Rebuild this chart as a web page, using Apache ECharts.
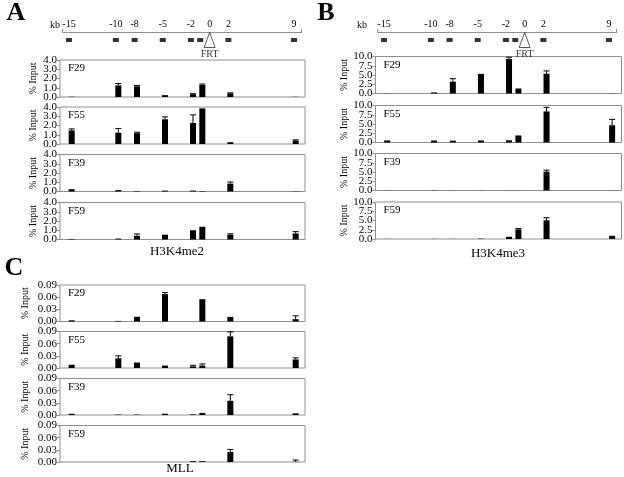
<!DOCTYPE html>
<html><head><meta charset="utf-8">
<script src="https://cdn.jsdelivr.net/npm/echarts@6/dist/echarts.min.js"></script>
<style>html,body{margin:0;padding:0;background:#fff}#c{width:624px;height:477px}</style>
</head><body><div id="c"></div>
<script>
// ---- data ----
const kbPositions = [-15, -10, -8, -5, -2, -1, 2, 9];
const kbTickLabels = [-15, -10, -8, -5, -2, 0, 2, 9];
const frtPosition = 0;
const sampleNames = ['F29', 'F55', 'F39', 'F59'];
const panelTitles = ['H3K4me2', 'H3K4me3', 'MLL'];
const me2Ticks = [0, 1, 2, 3, 4];
const me3Ticks = [0, 2.5, 5, 7.5, 10];
const mllTicks = [0, 0.03, 0.06, 0.09];

// H3K4me2 (% input) : value and top of error bar
const me2_F29 = [0.03, 1.25, 1.15, 0.2, 0.3, 1.3, 0.4, 0.02];
const me2_F29_err = [0.03, 1.45, 1.25, 0.2, 0.35, 1.4, 0.45, 0.02];
const me2_F55 = [1.47, 1.22, 1.17, 2.67, 2.27, 3.85, 0.2, 0.38];
const me2_F55_err = [1.63, 1.68, 1.27, 2.93, 3.15, 3.85, 0.2, 0.45];
const me2_F39 = [0.25, 0.15, 0.05, 0.1, 0.1, 0.05, 0.85, 0.03];
const me2_F39_err = [0.25, 0.15, 0.05, 0.1, 0.1, 0.05, 1.03, 0.03];
const me2_F59 = [0.05, 0.1, 0.4, 0.52, 1.0, 1.38, 0.52, 0.65];
const me2_F59_err = [0.05, 0.1, 0.6, 0.52, 1.0, 1.38, 0.62, 0.85];

// H3K4me3
const me3_F29 = [0.05, 0.3, 3.2, 5.3, 9.3, 1.35, 5.35, 0.05];
const me3_F29_err = [0.05, 0.3, 4.0, 5.3, 9.8, 1.35, 6.1, 0.05];
const me3_F55 = [0.55, 0.55, 0.5, 0.55, 0.6, 1.9, 8.4, 4.65];
const me3_F55_err = [0.55, 0.55, 0.5, 0.55, 0.6, 1.9, 9.5, 6.25];
const me3_F39 = [0.05, 0.05, 0.03, 0.03, 0.03, 0.03, 5.1, 0.03];
const me3_F39_err = [0.05, 0.05, 0.03, 0.03, 0.03, 0.03, 5.5, 0.03];
const me3_F59 = [0.03, 0.03, 0.03, 0.1, 0.6, 2.6, 5.05, 0.87];
const me3_F59_err = [0.03, 0.03, 0.03, 0.1, 0.6, 2.85, 5.75, 0.87];

// MLL
const mll_F29 = [0.003, 0.0015, 0.0115, 0.068, null, 0.055, 0.0115, 0.0057];
const mll_F29_err = [0.003, 0.0015, 0.0115, 0.0715, null, 0.055, 0.0115, 0.014];
const mll_F55 = [0.008, 0.024, 0.0135, 0.006, 0.004, 0.006, 0.078, 0.021];
const mll_F55_err = [0.008, 0.030, 0.0135, 0.006, 0.0067, 0.010, 0.089, 0.025];
const mll_F39 = [0.003, 0.001, 0.001, 0.003, 0.0015, 0.003, 0.035, 0.004];
const mll_F39_err = [0.003, 0.001, 0.001, 0.003, 0.0015, 0.004, 0.050, 0.004];
const mll_F59 = [null, null, null, null, 0.002, 0.002, 0.025, 0.0005];
const mll_F59_err = [null, null, null, null, 0.002, 0.002, 0.031, 0.005];

// ---- layout / styles ----
const FONT = 'Liberation Serif';
const panels = [
  { left: 60, width: 245, tops: [60, 107, 154.5, 202.5], h: 37, max: 4, ticks: me2Ticks, dec: 1, nameGap: 22,
    vals: [me2_F29, me2_F55, me2_F39, me2_F59], errs: [me2_F29_err, me2_F55_err, me2_F39_err, me2_F59_err],
    title: panelTitles[0], titleX: 177, titleY: 252 },
  { left: 375.5, width: 246, tops: [56.5, 105.5, 153.5, 202], h: 37, max: 10, ticks: me3Ticks, dec: 1, nameGap: 22,
    vals: [me3_F29, me3_F55, me3_F39, me3_F59], errs: [me3_F29_err, me3_F55_err, me3_F39_err, me3_F59_err],
    title: panelTitles[1], titleX: 498, titleY: 254 },
  { left: 60, width: 245, tops: [285, 331.5, 378.5, 425.5], h: 36.5, max: 0.09, ticks: mllTicks, dec: 2, nameGap: 30,
    vals: [mll_F29, mll_F55, mll_F39, mll_F59], errs: [mll_F29_err, mll_F55_err, mll_F39_err, mll_F59_err],
    title: panelTitles[2], titleX: 180, titleY: 469 }
];
const kbMaps = [{ left: 62.7, letter: 'A', lx: 16, ly: 13, kbx: 55 }, { left: 377.7, letter: 'B', lx: 326, ly: 13, kbx: 362 }];
const XMIN = -16.25, XMAX = 10.0;
const KBMIN = -15.67, KBMAX = 9.82;

const grid = [], xAxis = [], yAxis = [], series = [], graphic = [];

function errRender(params, api) {
  const x = api.value(0), v = api.value(1), e = api.value(2);
  const p0 = api.coord([x, v]), p1 = api.coord([x, e]);
  const hw = 3;
  return { type: 'group', children: [
    { type: 'line', shape: { x1: p0[0], y1: p0[1], x2: p1[0], y2: p1[1] }, style: { stroke: '#000', lineWidth: 1 } },
    { type: 'line', shape: { x1: p1[0] - hw, y1: p1[1], x2: p1[0] + hw, y2: p1[1] }, style: { stroke: '#000', lineWidth: 1 } }
  ] };
}

function makeYAxis(gi, p, tickVals, withName) {
  const ax = { gridIndex: gi, type: 'value', min: 0, max: p.max, position: 'left', offset: 0,
    axisLine: { show: false, onZero: false }, splitLine: { show: false },
    axisTick: { show: true, length: 3, customValues: tickVals, lineStyle: { color: '#8f8f8f' } },
    axisLabel: { customValues: tickVals, fontFamily: FONT, fontSize: 11, color: '#000', margin: 3,
      showMinLabel: true, showMaxLabel: true, hideOverlap: false, formatter: (v) => Number(v).toFixed(p.dec) } };
  if (withName) {
    Object.assign(ax, { name: '% Input', nameLocation: 'middle', nameRotate: 90, nameGap: p.nameGap,
      nameTextStyle: { fontFamily: FONT, fontSize: 10, color: '#000' } });
  }
  return ax;
}

panels.forEach((p) => {
  const evenTicks = p.ticks.filter((t, i) => i % 2 === 0);
  const oddTicks = p.ticks.filter((t, i) => i % 2 === 1);
  p.tops.forEach((top, si) => {
    const gi = grid.length;
    grid.push({ left: p.left, top: top, width: p.width, height: p.h, show: true, borderColor: '#8f8f8f', borderWidth: 1,
      backgroundColor: 'transparent', containLabel: false, outerBoundsMode: 'none' });
    xAxis.push({ gridIndex: gi, type: 'value', min: XMIN, max: XMAX, show: false });
    const yi = yAxis.length;
    yAxis.push(makeYAxis(gi, p, evenTicks, true));
    yAxis.push(makeYAxis(gi, p, oddTicks, false));
    const vals = p.vals[si], errs = p.errs[si];
    const barData = [], errData = [];
    kbPositions.forEach((x, i) => {
      if (vals[i] != null) barData.push([x, vals[i]]);
      if (vals[i] != null && errs[i] != null && errs[i] > vals[i]) errData.push([x, vals[i], errs[i]]);
    });
    series.push({ type: 'bar', xAxisIndex: gi, yAxisIndex: yi, data: barData, barWidth: 6,
      itemStyle: { color: '#000' }, silent: true });
    series.push({ type: 'custom', xAxisIndex: gi, yAxisIndex: yi, data: errData, renderItem: errRender, silent: true });
    graphic.push({ type: 'text', left: p.left + 8, top: top + 3,
      style: { text: sampleNames[si], font: '11px ' + FONT, fill: '#000' } });
  });
  graphic.push({ type: 'text', x: p.titleX, y: p.titleY,
    style: { text: p.title, font: '13px ' + FONT, fill: '#000', align: 'center', verticalAlign: 'middle' } });
});

kbMaps.forEach((k) => {
  const gi = grid.length;
  grid.push({ left: k.left, top: 32, width: 239, height: 16, show: false, containLabel: false, outerBoundsMode: 'none' });
  xAxis.push({ gridIndex: gi, type: 'value', position: 'top', min: KBMIN, max: KBMAX,
    axisLine: { show: true, onZero: false, lineStyle: { color: '#8f8f8f', width: 1 } },
    axisTick: { show: true, length: 3, customValues: [KBMIN, KBMAX], lineStyle: { color: '#8f8f8f' } },
    splitLine: { show: false },
    axisLabel: { customValues: kbTickLabels, fontFamily: FONT, fontSize: 10, color: '#000', margin: 3 } });
  const yi = yAxis.length;
  yAxis.push({ gridIndex: gi, type: 'value', min: 0, max: 1, show: false });
  series.push({ type: 'scatter', xAxisIndex: gi, yAxisIndex: yi, symbol: 'rect', symbolSize: [6, 4],
    itemStyle: { color: '#000' }, data: kbPositions.map((x) => [x, 0.5]), silent: true });
  series.push({ type: 'scatter', xAxisIndex: gi, yAxisIndex: yi, symbol: 'triangle', symbolSize: [11, 15],
    itemStyle: { color: '#fff', borderColor: '#000', borderWidth: 0.8 }, data: [[frtPosition, 0.5]], silent: true,
    label: { show: true, position: 'bottom', distance: 1, formatter: 'FRT', fontFamily: FONT, fontSize: 10, color: '#000' } });
  graphic.push({ type: 'text', x: k.kbx, y: 25,
    style: { text: 'kb', font: '10px ' + FONT, fill: '#000', align: 'center', verticalAlign: 'middle' } });
  graphic.push({ type: 'text', x: k.lx, y: k.ly,
    style: { text: k.letter, font: 'bold 26px ' + FONT, fill: '#000', align: 'center', verticalAlign: 'middle' } });
});
graphic.push({ type: 'text', x: 14, y: 268,
  style: { text: 'C', font: 'bold 26px ' + FONT, fill: '#000', align: 'center', verticalAlign: 'middle' } });

const chart = echarts.init(document.getElementById('c'), null, { renderer: 'canvas' });
chart.setOption({ animation: false, backgroundColor: '#fff', grid, xAxis, yAxis, series, graphic });
</script></body></html>
